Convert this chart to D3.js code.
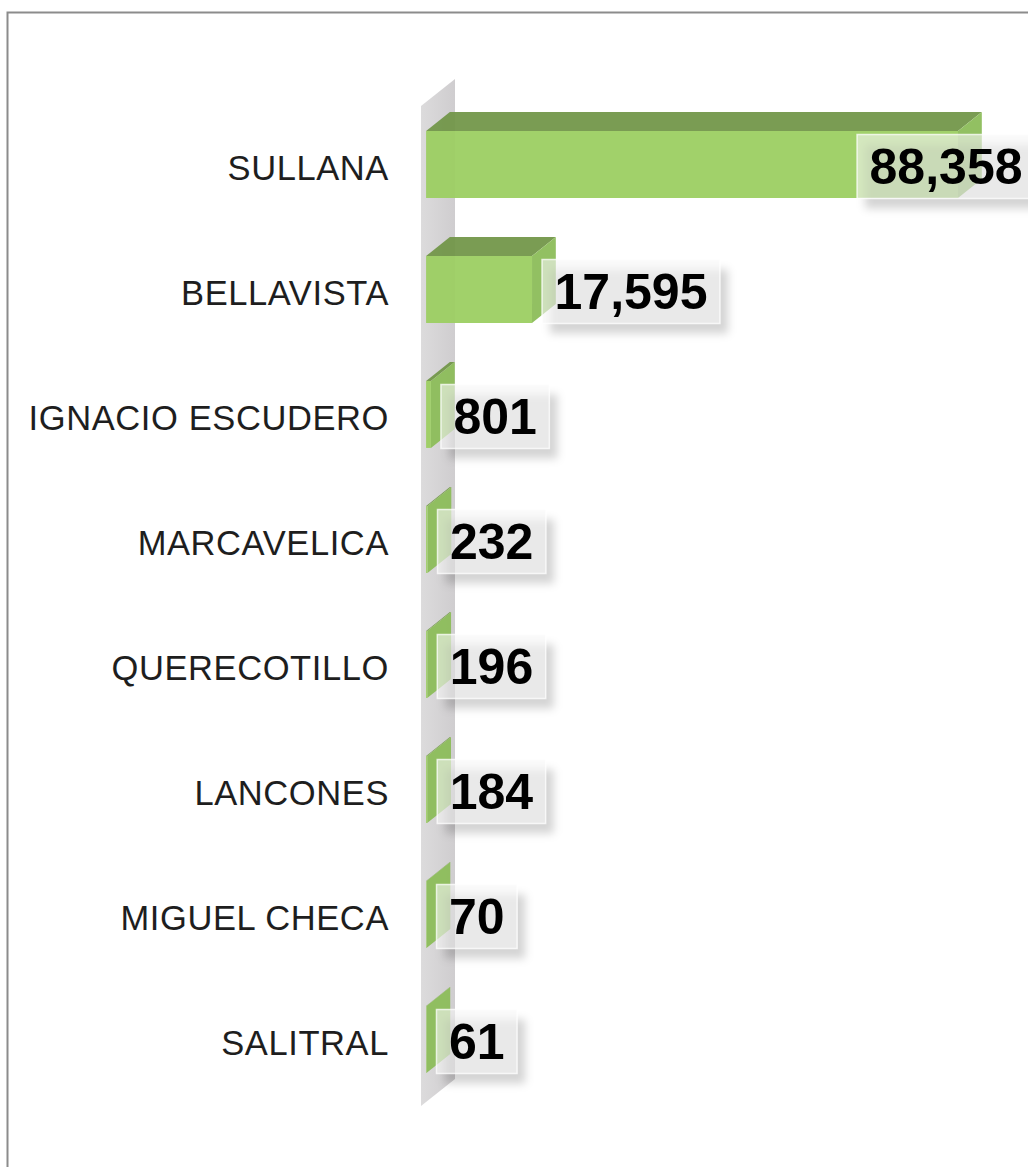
<!DOCTYPE html>
<html>
<head>
<meta charset="utf-8">
<script src="https://cdn.jsdelivr.net/npm/d3@7"></script>
<style>
  html, body { margin: 0; padding: 0; background: #fff; }
  svg { display: block; }
</style>
</head>
<body>
<script>
// Population by district
const districts = ["SULLANA", "BELLAVISTA", "IGNACIO ESCUDERO", "MARCAVELICA",
                   "QUERECOTILLO", "LANCONES", "MIGUEL CHECA", "SALITRAL"];
const population = [88358, 17595, 801, 232, 196, 184, 70, 61];
const valueDomain = [0, 100000];

const W = 1028, H = 1167;
const svg = d3.select("body").append("svg").attr("width", W).attr("height", H);

// 3D projection: depth f in [0,1] shifts right and up
const originX = 421, depthDX = 34, depthDY = -27;
const fFront = 0.15, fBack = 0.85;

const x = d3.scaleLinear().domain(valueDomain).range([0, 602]);
const y = d3.scaleBand().domain(districts).range([106, 1106])
  .paddingInner(0.464).paddingOuter(0.232);

const P = (v, yy, f) => [originX + x(v) + depthDX * f, yy + depthDY * f];
const poly = pts => "M" + pts.map(p => p.join(",")).join("L") + "Z";

const defs = svg.append("defs");
const wallGrad = defs.append("linearGradient").attr("id", "wallGrad")
  .attr("x1", "0").attr("x2", "1").attr("y1", "0").attr("y2", "0");
wallGrad.append("stop").attr("offset", "0").attr("stop-color", "#dcdbdc");
wallGrad.append("stop").attr("offset", "1").attr("stop-color", "#cfcdcf");
const shadow = defs.append("filter").attr("id", "shadow")
  .attr("x", "-20%").attr("y", "-30%").attr("width", "150%").attr("height", "170%");
shadow.append("feGaussianBlur").attr("stdDeviation", 4);

// chart frame
svg.append("rect").attr("x", 7.5).attr("y", 12.5).attr("width", 1200).attr("height", 1200)
  .attr("fill", "none").attr("stroke", "#8c8c8c").attr("stroke-width", 2);

// side wall at the value baseline
const [y0, y1] = y.range();
svg.append("path")
  .attr("d", poly([P(0, y0, 0), P(0, y0, 1), P(0, y1, 1), P(0, y1, 0)]))
  .attr("fill", "url(#wallGrad)");

// category labels
svg.append("g").selectAll("text").data(districts).join("text")
  .attr("x", 389)
  .attr("y", d => y(d) + y.bandwidth() / 2 + 2)
  .attr("text-anchor", "end")
  .attr("dominant-baseline", "middle")
  .attr("font-family", "Liberation Sans, Arial, sans-serif")
  .attr("font-size", 34.5)
  .attr("letter-spacing", 0.6)
  .attr("fill", "#1e1e1e")
  .text(d => d);

// bars
const bars = svg.append("g").selectAll("g").data(districts).join("g").attr("opacity", 0.95);
bars.each(function(d, i) {
  const v = population[i];
  const t = y(d), b = y(d) + y.bandwidth();
  const g = d3.select(this);
  g.append("path").attr("fill", "#73974a")
    .attr("d", poly([P(0, t, fFront), P(v, t, fFront), P(v, t, fBack), P(0, t, fBack)]));
  g.append("path").attr("fill", "#8dbd5a")
    .attr("d", poly([P(v, t, fFront), P(v, t, fBack), P(v, b, fBack), P(v, b, fFront)]));
  g.append("path").attr("fill", "#9dcf63")
    .attr("d", poly([P(0, t, fFront), P(v, t, fFront), P(v, b, fFront), P(0, b, fFront)]));
});

// value labels in shaded boxes
const fmt = d3.format(",");
const labels = svg.append("g");
districts.forEach((d, i) => {
  const v = population[i];
  const cy = y(d) + y.bandwidth() / 2 - 2;
  const g = labels.append("g");
  const txt = g.append("text")
    .attr("font-family", "Liberation Sans, Arial, sans-serif")
    .attr("font-weight", "bold")
    .attr("font-size", 50)
    .attr("fill", "#000")
    .attr("text-anchor", "middle")
    .attr("dominant-baseline", "middle")
    .text(fmt(v));
  const tw = txt.node().getComputedTextLength();
  const bw = tw + 25, bh = 64;
  const endX = P(v, 0, fFront)[0];
  const bx = Math.min(endX + 10, 1035 - bw);
  const by = cy - bh / 2;
  g.insert("rect", "text").attr("x", bx + 8).attr("y", by + 10)
    .attr("width", bw).attr("height", bh)
    .attr("fill", "rgba(0,0,0,0.17)").attr("filter", "url(#shadow)");
  g.insert("rect", "text").attr("x", bx).attr("y", by)
    .attr("width", bw).attr("height", bh)
    .attr("fill", "rgba(246,246,246,0.6)")
    .attr("stroke", "rgba(255,255,255,0.75)").attr("stroke-width", 1.5);
  txt.attr("x", bx + bw / 2).attr("y", cy + 4);
});
</script>
</body>
</html>
